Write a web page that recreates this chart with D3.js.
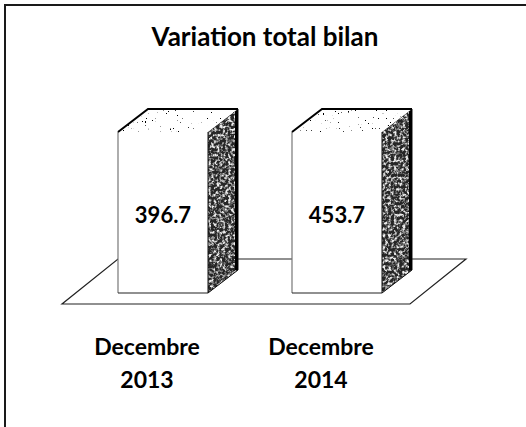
<!DOCTYPE html>
<html>
<head>
<meta charset="utf-8">
<script src="https://cdn.jsdelivr.net/npm/d3@7"></script>
<style>
  html, body { margin: 0; padding: 0; background: #fff; }
  svg { display: block; font-family: Lato, "Open Sans", sans-serif; }
</style>
</head>
<body>
<svg id="chart"></svg>
<script>
const title = "Variation total bilan";
const categories = ["Decembre 2013", "Decembre 2014"];
const values = [396.7, 453.7];

const W = 526;
const H = 427;

// floor is a parallelogram; bars stand a bit behind its front edge
const floorY = 304;
const floorDepth = { dx: 56, dy: -45 };
const barShift = { dx: 14, dy: -11 };
const barDepth = { dx: 30, dy: -23 };
const barW = 90;

const svg = d3.select("#chart").attr("width", W).attr("height", H);

// Speckle filters (scanned look of the side/top faces)
const defs = svg.append("defs");
const speck = defs.append("filter").attr("id", "speck")
  .attr("x", 0).attr("y", 0).attr("width", "100%").attr("height", "100%");
speck.append("feTurbulence")
  .attr("type", "fractalNoise").attr("baseFrequency", 0.35)
  .attr("numOctaves", 3).attr("seed", 4).attr("result", "noise");
speck.append("feColorMatrix").attr("in", "noise").attr("type", "matrix")
  .attr("values", "0 0 0 0 0.85  0 0 0 0 0.85  0 0 0 0 0.85  3.4 0 0 0 -1.45")
  .attr("result", "spots");
speck.append("feComposite").attr("in", "spots").attr("in2", "SourceGraphic").attr("operator", "in");

const dust = defs.append("filter").attr("id", "dust")
  .attr("x", 0).attr("y", 0).attr("width", "100%").attr("height", "100%");
dust.append("feTurbulence")
  .attr("type", "fractalNoise").attr("baseFrequency", 0.6)
  .attr("numOctaves", 2).attr("seed", 9).attr("result", "noise");
dust.append("feColorMatrix").attr("in", "noise").attr("type", "matrix")
  .attr("values", "0 0 0 0 0  0 0 0 0 0  0 0 0 0 0  16 0 0 0 -11.4")
  .attr("result", "spots");
dust.append("feComposite").attr("in", "spots").attr("in2", "SourceGraphic").attr("operator", "in");

// Frame (only top and left edges show)
svg.append("path")
  .attr("d", `M5,${H} L5,5 L${W},5`)
  .attr("fill", "none")
  .attr("stroke", "#1a1a1a")
  .attr("stroke-width", 2);

// Title
svg.append("text")
  .attr("x", 265)
  .attr("y", 46)
  .attr("text-anchor", "middle")
  .style("font-size", "26px")
  .style("font-weight", "700")
  .text(title);

// Scales
const x = d3.scaleBand().domain(categories).range([62, 410]);
const baseY = floorY + barShift.dy;
// both columns are drawn at the same height in the source picture
const y = d3.scaleLinear().domain([0, d3.max(values)]).range([baseY, 132]);

// Floor
const [fx0, fx1] = x.range();
svg.append("path")
  .attr("d", d3.line()([
    [fx0, floorY], [fx1, floorY],
    [fx1 + floorDepth.dx, floorY + floorDepth.dy],
    [fx0 + floorDepth.dx, floorY + floorDepth.dy]
  ]) + "Z")
  .attr("fill", "#fff")
  .attr("stroke", "#222")
  .attr("stroke-width", 1.2);

// Bars
const bars = svg.append("g")
  .selectAll("g")
  .data(categories.map((c, i) => ({ cat: c, value: values[i] })))
  .join("g");

function geom(d) {
  const x0 = x(d.cat) + x.bandwidth() / 2 - barW / 2 + barShift.dx;
  const x1 = x0 + barW;
  const top = y(d3.max(values));
  return { x0, x1, top, bottom: baseY };
}

bars.each(function (d) {
  const g = d3.select(this);
  const { x0, x1, top, bottom } = geom(d);
  const dx = barDepth.dx, dy = barDepth.dy;

  // front face
  g.append("rect")
    .attr("x", x0).attr("y", top)
    .attr("width", x1 - x0).attr("height", bottom - top)
    .attr("fill", "#fff");
  g.append("path")
    .attr("d", `M${x0},${top} L${x0},${bottom}`)
    .attr("stroke", "#777").attr("stroke-width", 1.2);
  g.append("path")
    .attr("d", `M${x0},${bottom} L${x1},${bottom}`)
    .attr("stroke", "#222").attr("stroke-width", 1.2);

  // side face
  const side = d3.line()([[x1, top], [x1 + dx, top + dy], [x1 + dx, bottom + dy], [x1, bottom]]) + "Z";
  g.append("path").attr("d", side).attr("fill", "#262626");
  g.append("path").attr("d", side).attr("fill", "#fff").attr("filter", "url(#speck)");
  g.append("path").attr("d", side).attr("fill", "none").attr("stroke", "#111").attr("stroke-width", 1);
  g.append("path")
    .attr("d", `M${x1 + dx - 1.5},${top + dy} L${x1 + dx - 1.5},${bottom + dy}`)
    .attr("stroke", "#000").attr("stroke-width", 3);

  // top face
  const topFace = d3.line()([[x0, top], [x0 + dx, top + dy], [x1 + dx, top + dy], [x1, top]]) + "Z";
  g.append("path").attr("d", topFace).attr("fill", "#fff");
  g.append("path").attr("d", topFace).attr("fill", "#000").attr("filter", "url(#dust)");
  g.append("path")
    .attr("d", `M${x0},${top} L${x0 + dx},${top + dy} L${x1 + dx},${top + dy}`)
    .attr("fill", "none").attr("stroke", "#000").attr("stroke-width", 2);

  // value label
  g.append("text")
    .attr("x", (x0 + x1) / 2)
    .attr("y", (top + bottom) / 2 + 10)
    .attr("text-anchor", "middle")
    .style("font-size", "22px")
    .style("font-weight", "700")
    .text(d3.format(".1f")(d.value));
});

// Category labels (two lines)
const labels = svg.append("g")
  .selectAll("text")
  .data(categories)
  .join("text")
  .attr("text-anchor", "middle")
  .style("font-size", "23px")
  .style("font-weight", "700");

labels.each(function (c) {
  const t = d3.select(this);
  const cx = x(c) + x.bandwidth() / 2 - 2;
  const parts = c.split(" ");
  t.append("tspan").attr("x", cx).attr("y", 355).text(parts[0]);
  t.append("tspan").attr("x", cx).attr("y", 388).text(parts[1]);
});
</script>
</body>
</html>
